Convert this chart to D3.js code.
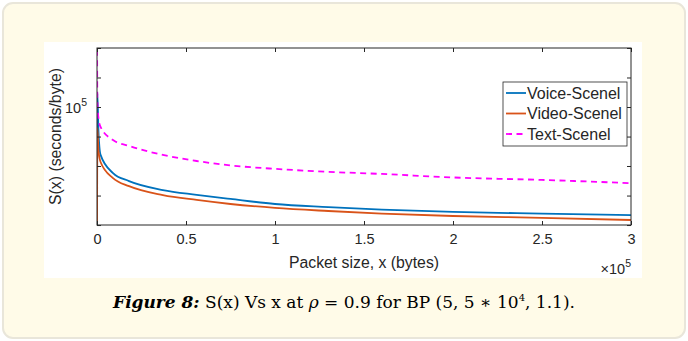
<!DOCTYPE html>
<html>
<head>
<meta charset="utf-8">
<script src="https://cdn.jsdelivr.net/npm/d3@7"></script>
<style>
  body { margin: 0; background: #fff; }
  svg text { font-family: "Liberation Sans", Arial, sans-serif; fill: #262626; }
</style>
</head>
<body>
<div id="chart"></div>
<script>
// Data ------------------------------------------------------------------------
const packetSize = [0, 200, 800, 2000, 9000, 18000, 37000, 56000, 75000,
  100000, 130000, 160000, 200000, 250000, 300000];
const voiceScene = [3e4, 1.115e5, 8.36e4, 6.88e4, 5.97e4, 5.61e4, 5.23e4,
  5.04e4, 4.88e4, 4.69e4, 4.58e4, 4.49e4, 4.41e4, 4.35e4, 4.30e4];
const videoScene = [3e4, 8.49e4, 7.15e4, 6.51e4, 5.74e4, 5.39e4, 5.03e4,
  4.84e4, 4.69e4, 4.55e4, 4.44e4, 4.35e4, 4.27e4, 4.21e4, 4.14e4];
const textScene = [2e5, 1.057e5, 9.18e4, 8.56e4, 7.73e4, 7.38e4, 6.88e4,
  6.56e4, 6.34e4, 6.17e4, 6.03e4, 5.93e4, 5.77e4, 5.66e4, 5.52e4];
const seriesNames = ["Voice-Scenel", "Video-Scenel", "Text-Scenel"];
const xTicks = [0, 50000, 100000, 150000, 200000, 250000, 300000];
const xTickLabels = ["0", "0.5", "1", "1.5", "2", "2.5", "3"];
const yTicks = [3.98e4, 5.01e4, 6.31e4, 7.94e4, 1e5, 1.259e5, 1.585e5];

// Layout ----------------------------------------------------------------------
const width = 688;
const height = 341;
const plot = { left: 97, right: 631, top: 48, bottom: 225 };

const svg = d3.select("#chart")
  .append("svg")
  .attr("width", width)
  .attr("height", height);

svg.append("rect")
  .attr("x", 3).attr("y", 3)
  .attr("width", 682).attr("height", 335)
  .attr("rx", 10)
  .attr("fill", "#fffbe8")
  .attr("stroke", "#e9e6da")
  .attr("stroke-width", 2);

svg.append("rect")
  .attr("x", 44).attr("y", 42)
  .attr("width", 598).attr("height", 236)
  .attr("fill", "#fff");

// Scales ----------------------------------------------------------------------
const x = d3.scaleLinear()
  .domain([0, 300000])
  .range([plot.left, plot.right]);

const y = d3.scaleLog()
  .domain([Math.pow(10, 4.6), Math.pow(10, 5.2)])
  .range([plot.bottom, plot.top]);

// Curves ----------------------------------------------------------------------
svg.append("clipPath")
  .attr("id", "plot-clip")
  .append("rect")
  .attr("x", plot.left).attr("y", plot.top)
  .attr("width", plot.right - plot.left)
  .attr("height", plot.bottom - plot.top);

const line = d3.line()
  .x((d, i) => x(packetSize[i]))
  .y(d => y(d))
  .curve(d3.curveMonotoneX);

const series = [
  { values: voiceScene, color: "#0072bd", dash: null },
  { values: videoScene, color: "#d95319", dash: null },
  { values: textScene, color: "#ff00ff", dash: "6,4.5" }
];

svg.append("g")
  .attr("clip-path", "url(#plot-clip)")
  .selectAll("path")
  .data(series)
  .join("path")
  .attr("d", d => line(d.values))
  .attr("fill", "none")
  .attr("stroke", d => d.color)
  .attr("stroke-width", 1.8)
  .attr("stroke-dasharray", d => d.dash);

// Axes ------------------------------------------------------------------------
const tickLen = 4;

svg.append("g")
  .attr("transform", `translate(0,${plot.bottom})`)
  .call(d3.axisBottom(x).tickValues(xTicks)
    .tickSize(-tickLen).tickPadding(9)
    .tickFormat((d, i) => xTickLabels[i]))
  .call(g => g.select(".domain").remove())
  .call(g => g.selectAll("text").attr("font-size", 14.5))
  .call(g => g.selectAll("line").attr("stroke", "#262626"));

svg.append("g")
  .attr("transform", `translate(0,${plot.top})`)
  .call(d3.axisTop(x).tickValues(xTicks).tickSize(-tickLen).tickFormat(""))
  .call(g => g.select(".domain").remove())
  .call(g => g.selectAll("line").attr("stroke", "#262626"));

svg.append("g")
  .attr("transform", `translate(${plot.left},0)`)
  .call(d3.axisLeft(y).tickValues(yTicks).tickSize(-tickLen).tickFormat(""))
  .call(g => g.select(".domain").remove())
  .call(g => g.selectAll("line").attr("stroke", "#262626"));

svg.append("g")
  .attr("transform", `translate(${plot.right},0)`)
  .call(d3.axisRight(y).tickValues(yTicks).tickSize(-tickLen).tickFormat(""))
  .call(g => g.select(".domain").remove())
  .call(g => g.selectAll("line").attr("stroke", "#262626"));

const label105 = svg.append("text")
  .attr("x", plot.left - 10)
  .attr("y", y(1e5) + 6)
  .attr("text-anchor", "end")
  .attr("font-size", 14.5);
label105.append("tspan").text("10");
label105.append("tspan").attr("dy", -7).attr("font-size", 10.5).text("5");

svg.append("rect")
  .attr("x", plot.left).attr("y", plot.top)
  .attr("width", plot.right - plot.left)
  .attr("height", plot.bottom - plot.top)
  .attr("fill", "none")
  .attr("stroke", "#262626")
  .attr("stroke-width", 1);

// Axis titles -----------------------------------------------------------------
svg.append("text")
  .attr("x", (plot.left + plot.right) / 2)
  .attr("y", 268)
  .attr("text-anchor", "middle")
  .attr("font-size", 15.8)
  .text("Packet size, x (bytes)");

svg.append("text")
  .attr("transform", `translate(61,${(plot.top + plot.bottom) / 2}) rotate(-90)`)
  .attr("text-anchor", "middle")
  .attr("font-size", 15.8)
  .text("S(x) (seconds/byte)");

const xExp = svg.append("text")
  .attr("x", 631)
  .attr("y", 274)
  .attr("text-anchor", "end")
  .attr("font-size", 14.5);
xExp.append("tspan").text("\u00d710");
xExp.append("tspan").attr("dy", -7).attr("font-size", 10.5).text("5");

// Legend ----------------------------------------------------------------------
const legend = svg.append("g").attr("transform", "translate(503,82)");

legend.append("rect")
  .attr("width", 124).attr("height", 64)
  .attr("fill", "#fff")
  .attr("stroke", "#262626")
  .attr("stroke-width", 0.8);

const legendRows = legend.selectAll("g.row")
  .data(series)
  .join("g")
  .attr("class", "row")
  .attr("transform", (d, i) => `translate(0,${11 + i * 20.5})`);

legendRows.append("line")
  .attr("x1", 3).attr("x2", 23)
  .attr("stroke", d => d.color)
  .attr("stroke-width", 1.8)
  .attr("stroke-dasharray", d => d.dash);

legendRows.append("text")
  .attr("x", 24)
  .attr("y", 5.5)
  .attr("font-size", 16)
  .text((d, i) => seriesNames[i]);

// Caption ---------------------------------------------------------------------
const caption = svg.append("text")
  .attr("x", width / 2)
  .attr("y", 308)
  .attr("text-anchor", "middle")
  .attr("font-size", 17)
  .style("font-family", "'DejaVu Serif', 'Liberation Serif', serif")
  .style("fill", "#000");

caption.append("tspan").attr("font-weight", "bold").attr("font-style", "italic")
  .text("Figure 8:");
caption.append("tspan").text(" S(x) Vs x at ");
caption.append("tspan").attr("font-style", "italic").text("\u03c1");
caption.append("tspan").text(" = 0.9 for BP (5, 5 \u2217 10");
caption.append("tspan").attr("dy", -7).attr("font-size", 10).text("4");
caption.append("tspan").attr("dy", 7).text(", 1.1).");
</script>
</body>
</html>
